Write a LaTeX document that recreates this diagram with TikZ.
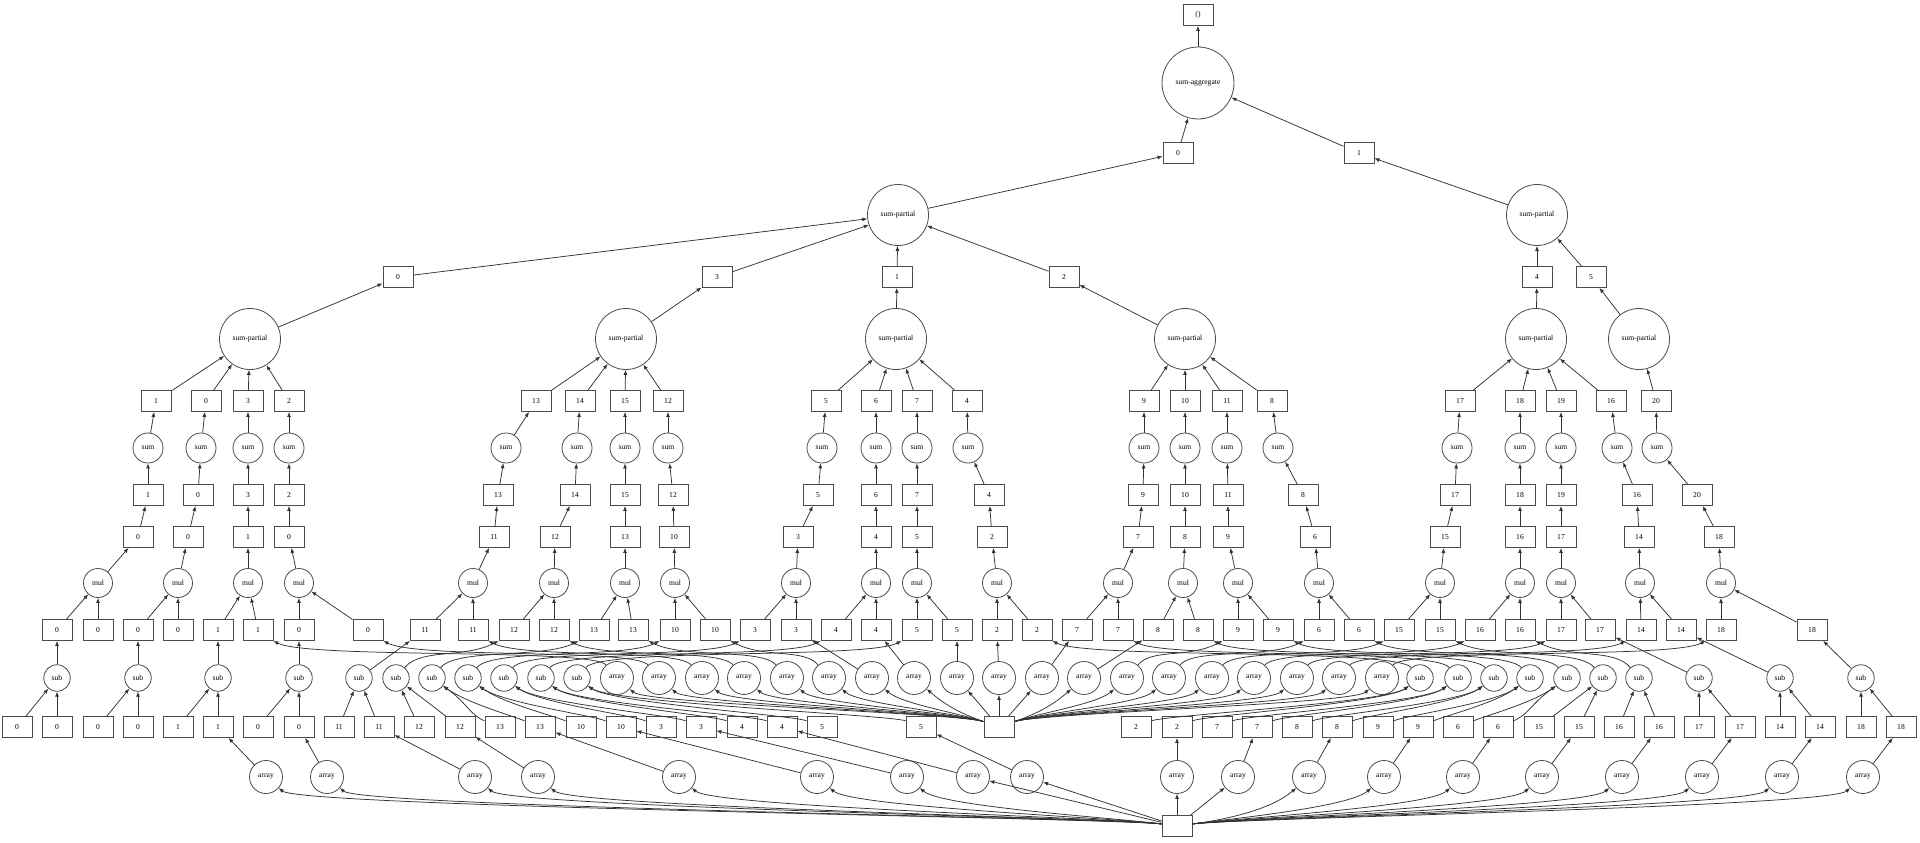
\documentclass[tikz,border=0pt]{standalone}
\usepackage{fontspec}
\setmainfont{Liberation Serif}
\usetikzlibrary{arrows.meta}
\newcommand\dskfont{\fontsize{7.6}{8}\selectfont}
\tikzset{
  bx/.style={rectangle, draw=black!70, line width=0.9pt, minimum width=30pt, minimum height=21pt, inner sep=0pt, font=\dskfont},
  fn/.style={circle, draw=black!70, line width=0.8pt, inner sep=0pt, font=\dskfont},
  arrn/.style={fn, minimum size=33pt},
  subn/.style={fn, minimum size=26.5pt},
  muln/.style={fn, minimum size=29pt},
  sumn/.style={fn, minimum size=30pt},
  partn/.style={fn, minimum size=61pt},
  aggn/.style={fn, minimum size=72pt},
  dep/.style={-{Latex[length=5pt,width=4pt]}, line width=0.75pt, draw=black!80},
}
\begin{document}
\begin{tikzpicture}[x=1pt,y=-1pt]
\fill[white] (0,0) rectangle (1920,843);
\path[use as bounding box] (0,0) rectangle (1920,843);

% ---- reduction tree ----
\node[bx] (top) at (1198,15) {()};
\node[aggn] (agg) at (1198,83) {sum-aggregate};
\node[bx] (t0) at (1178,153) {0};
\node[bx] (t1) at (1359,153) {1};
\node[partn] (P) at (898,215) {sum-partial};
\node[partn] (Q) at (1537,215) {sum-partial};
\node[bx] (u0) at (398,277) {0};
\node[bx] (u3) at (717,277) {3};
\node[bx] (u1) at (897,277) {1};
\node[bx] (u2) at (1064,277) {2};
\node[bx] (u4) at (1537,277) {4};
\node[bx] (u5) at (1591,277) {5};
\node[partn] (pA) at (250,339) {sum-partial};
\node[partn] (pB) at (626,339) {sum-partial};
\node[partn] (pC) at (896,339) {sum-partial};
\node[partn] (pD) at (1185,339) {sum-partial};
\node[partn] (pE) at (1536,339) {sum-partial};
\node[partn] (pF) at (1639,339) {sum-partial};

% ---- per-chunk columns ----
\foreach \x/\l [count=\i] in {156/1,206/0,248/3,289/2,536/13,580/14,625/15,668/12,826/5,876/6,917/7,967/4,1144/9,1185/10,1227/11,1272/8,1460/17,1520/18,1561/19,1611/16,1656/20}
  \node[bx] (h\i) at (\x,401) {\l};
\foreach \x [count=\i] in {148,201,248,289,506,577,625,668,822,876,917,968,1144,1185,1227,1278,1457,1520,1561,1617,1657}
  \node[sumn] (g\i) at (\x,448) {sum};
\foreach \x/\l [count=\i] in {148/1,198/0,248/3,289/2,498/13,575/14,625/15,673/12,818/5,876/6,917/7,989/4,1143/9,1185/10,1228/11,1303/8,1455/17,1520/18,1561/19,1637/16,1697/20}
  \node[bx] (d\i) at (\x,495) {\l};
\foreach \x/\l [count=\i] in {138/0,188/0,248/1,289/0,494/11,555/12,625/13,674/10,798/3,876/4,917/5,992/2,1138/7,1185/8,1228/9,1315/6,1445/15,1520/16,1561/17,1639/14,1719/18}
  \node[bx] (c\i) at (\x,537) {\l};
\foreach \x [count=\i] in {98,178,248,299,473,554,625,675,796,876,917,997,1118,1183,1238,1319,1440,1520,1561,1640,1721}
  \node[muln] (m\i) at (\x,583) {mul};
\foreach \x/\l [count=\i] in {57/0,98/0,138/0,178/0,218/1,258/1,299/0,368/0,425/11,473/11,514/12,554/12,594/13,633/13,675/10,715/10,755/3,796/3,836/4,876/4,917/5,957/5,997/2,1037/2,1077/7,1118/7,1158/8,1198/8,1238/9,1278/9,1319/6,1359/6,1399/15,1440/15,1480/16,1520/16,1561/17,1600/17,1641/14,1681/14,1721/18,1812/18}
  \node[bx] (r\i) at (\x,630) {\l};
\foreach \x [count=\i] in {57,138,218,299,359,396,432,468,504,541,577,1420,1458,1494,1530,1567,1603,1639,1699,1780,1861}
  \node[subn] (s\i) at (\x,678) {sub};
\foreach \x [count=\i] in {617,659,702,744,787,829,872,914,957,999,1042,1084,1127,1169,1212,1254,1297,1339,1382}
  \node[arrn] (b\i) at (\x,678) {array};
\foreach \x/\l [count=\i] in {17/0,57/0,98/0,138/0,178/1,218/1,258/0,299/0,339/11,379/11,419/12,460/12,500/13,540/13,581/10,621/10,661/3,701/3,742/4,782/4,822/5,921/5,1136/2,1177/2,1217/7,1257/7,1297/8,1337/8,1378/9,1418/9,1458/6,1498/6,1539/15,1579/15,1619/16,1659/16,1699/17,1740/17,1780/14,1820/14,1861/18,1901/18}
  \node[bx] (q\i) at (\x,727) {\l};
\node[bx] (e) at (999,727) {};
\foreach \x [count=\i] in {266,327,475,538,679,817,907,973,1027,1177,1238,1309,1384,1463,1542,1622,1702,1782,1863}
  \node[arrn] (a\i) at (\x,777) {array};
\node[bx] (root) at (1177,826) {};

% ---- source arrays ----
\foreach \i in {1,...,7} \draw[dep] (root) .. controls +(-60,-8) and +(35,30) .. (a\i);
\foreach \i in {8,9,10,11} \draw[dep] (root) -- (a\i);
\foreach \i in {12,...,19} \draw[dep] (root) .. controls +(60,-8) and +(-35,30) .. (a\i);
\foreach \i in {1,...,19} {\pgfmathtruncatemacro\k{2*\i+4}\draw[dep] (a\i) -- (q\k);}

\foreach \i in {1,...,8} \draw[dep] (e) .. controls +(-40,-14) and +(30,26) .. (b\i);
\foreach \i in {9,10,11} \draw[dep] (e) -- (b\i);
\foreach \i in {12,...,19} \draw[dep] (e) .. controls +(40,-14) and +(-30,26) .. (b\i);

% ---- differences ----
\foreach \i in {1,2,3,4,5,6,17,18,19,20,21} {\pgfmathtruncatemacro\ka{2*\i-1}\pgfmathtruncatemacro\kb{2*\i}
  \draw[dep] (q\ka) -- (s\i); \draw[dep] (q\kb) -- (s\i);}
\foreach \i in {7,...,11} {\pgfmathtruncatemacro\ka{2*\i-1}\pgfmathtruncatemacro\kb{2*\i}
  \draw[dep] (q\ka) .. controls +(-30,-12) and +(35,25) .. (s\i);
  \draw[dep] (q\kb) .. controls +(-30,-12) and +(35,25) .. (s\i);}
\foreach \i in {12,...,16} {\pgfmathtruncatemacro\ka{2*\i-1}\pgfmathtruncatemacro\kb{2*\i}
  \draw[dep] (q\ka) .. controls +(30,-12) and +(-35,25) .. (s\i);
  \draw[dep] (q\kb) .. controls +(30,-12) and +(-35,25) .. (s\i);}

% ---- operands of the products ----
\foreach \i/\k in {1/1,2/3,3/5,4/7,5/9,19/38,20/40,21/42} \draw[dep] (s\i) -- (r\k);
\foreach \i/\k in {6/11,7/13,8/15,9/17,10/19,11/21} \draw[dep] (s\i) .. controls +(25,-30) and +(-35,18) .. (r\k.south west);
\foreach \i/\k in {12/24,13/26,14/28,15/30,16/32,17/34,18/36} \draw[dep] (s\i) .. controls +(-25,-30) and +(35,18) .. (r\k.south east);
\foreach \i/\k in {1/6,2/8,3/10,4/12,5/14,6/16} \draw[dep] (b\i) .. controls +(-25,-30) and +(35,18) .. (r\k.south east);
\foreach \i/\k in {7/18,8/20,9/22,10/23,11/25,12/27} \draw[dep] (b\i) -- (r\k);
\foreach \i/\k in {13/29,14/31,15/33,16/35,17/37,18/39,19/41} \draw[dep] (b\i) .. controls +(25,-30) and +(-35,18) .. (r\k.south west);

% ---- products and chunk sums ----
\foreach \i in {1,...,21} {\pgfmathtruncatemacro\ka{2*\i-1}\pgfmathtruncatemacro\kb{2*\i}
  \draw[dep] (r\ka) -- (m\i); \draw[dep] (r\kb) -- (m\i);
  \draw[dep] (m\i) -- (c\i); \draw[dep] (c\i) -- (d\i);
  \draw[dep] (d\i) -- (g\i); \draw[dep] (g\i) -- (h\i);}

% ---- partial sums ----
\foreach \i in {1,...,4} \draw[dep] (h\i) -- (pA);
\foreach \i in {5,...,8} \draw[dep] (h\i) -- (pB);
\foreach \i in {9,...,12} \draw[dep] (h\i) -- (pC);
\foreach \i in {13,...,16} \draw[dep] (h\i) -- (pD);
\foreach \i in {17,...,20} \draw[dep] (h\i) -- (pE);
\draw[dep] (h21) -- (pF);
\draw[dep] (pA) -- (u0);
\draw[dep] (pB) -- (u3);
\draw[dep] (pC) -- (u1);
\draw[dep] (pD) -- (u2);
\draw[dep] (pE) -- (u4);
\draw[dep] (pF) -- (u5);
\foreach \n in {u0,u3,u1,u2} \draw[dep] (\n) -- (P);
\foreach \n in {u4,u5} \draw[dep] (\n) -- (Q);
\draw[dep] (P) -- (t0);
\draw[dep] (Q) -- (t1);
\draw[dep] (t0) -- (agg);
\draw[dep] (t1) -- (agg);
\draw[dep] (agg) -- (top);
\end{tikzpicture}
\end{document}
